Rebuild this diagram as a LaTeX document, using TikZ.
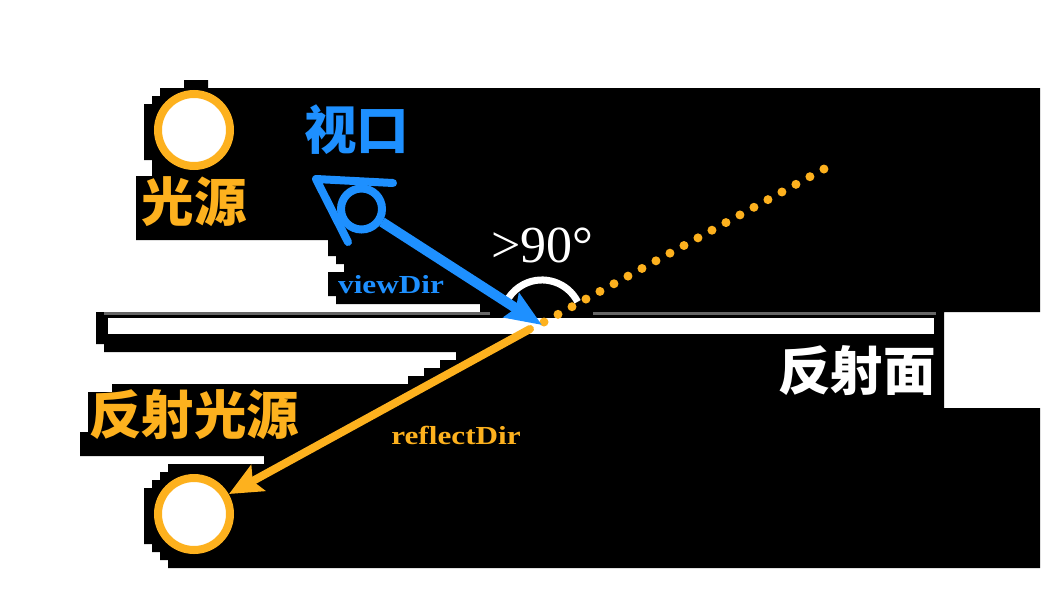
\documentclass[tikz,border=0pt]{standalone}
\usepackage{fontspec}
\usetikzlibrary{arrows.meta}
\newfontfamily\cjkf{Noto Sans CJK SC}
\newfontfamily\labelf[FakeStretch=1.2]{Liberation Serif}
\newfontfamily\numf{Liberation Serif}
\definecolor{sunorange}{HTML}{FDB11E}
\definecolor{eyeblue}{HTML}{1E90FF}
\tikzset{
  x=1pt,y=-1pt,
  lamp/.style={circle,draw=sunorange,fill=white,line width=8pt,minimum size=72pt,inner sep=0pt},
  bigtext/.style={inner sep=0pt,font=\cjkf\bfseries\fontsize{52.5}{52.5}\selectfont},
  smalltext/.style={inner sep=0pt,font=\labelf\bfseries\fontsize{26}{26}\selectfont},
  eyeline/.style={draw=eyeblue,line width=8pt,line cap=round,line join=round},
}
\begin{document}
\begin{tikzpicture}
\useasboundingbox (0,0) rectangle (1044,600);
\fill[white] (0,0) rectangle (1044,600);
% dark backdrop
\fill[black] (184,88)--(184,80)--(208,80)--(208,88)--(1040,88)--(1040,312)--(944,312)--(944,408)--(1040,408)--(1040,568)
 --(168,568)--(168,560)--(160,560)--(160,552)--(152,552)--(152,544)--(144,544)--(144,488)--(152,488)--(152,480)--(160,480)--(160,472)--(168,472)--(168,464)
 --(264,464)--(264,456)--(80,456)--(80,432)--(88,432)--(88,392)--(112,392)--(112,384)--(408,384)--(408,376)--(424,376)--(424,368)--(440,368)--(440,360)--(456,360)--(456,352)
 --(104,352)--(104,344)--(96,344)--(96,312)--(480,312)--(480,304)--(336,304)--(336,296)--(328,296)--(328,272)--(344,272)--(344,264)--(336,264)--(336,256)--(328,256)--(328,240)
 --(136,240)--(136,176)--(152,176)--(152,160)--(144,160)--(144,104)--(152,104)--(152,96)--(160,96)--(160,88)--cycle;
% reflecting surface
\fill[black!60] (104,312) rectangle (490,315);
\fill[black!60] (593,312) rectangle (936,315);
\node[fill=white,inner sep=0pt,minimum width=826pt,minimum height=16pt] (surface) at (521,326) {};
% coordinates
\coordinate (arcstart) at (577.6,301.8);
\coordinate (viewtip) at (542,325);
\coordinate (viewtail) at (382,222);
\coordinate (reflecttail) at (530,329);
\coordinate (reflecttip) at (229,494);
\coordinate (dotsstart) at (544,322);
\coordinate (dotsend) at (824,169);
\coordinate (eyeapex) at (316,179);
\coordinate (eyeup) at (393,183);
\coordinate (eyedown) at (348,242);
% angle arc
\draw[white,line width=7pt] (arcstart) arc[start angle=-27,end angle=-147,radius=40];
% dotted extension
\draw[sunorange,line width=9pt,line cap=round,dash pattern=on 0pt off 15.95pt] (dotsstart) -- (dotsend);
% lamps
\node[lamp] (light) at (194,130) {};
\node[lamp] (mirror) at (194,514) {};
% arrows
\draw[eyeblue,line width=10pt,-{Stealth[length=36pt,width=28pt,inset=5pt]}] (viewtail) -- (viewtip);
\draw[sunorange,line width=8pt,line cap=round,-{Stealth[length=33pt,width=29pt,inset=6pt]}] (reflecttail) -- (reflecttip);
% eye
\draw[eyeline] (eyeup) -- (eyeapex) -- (eyedown);
\node[circle,draw=eyeblue,line width=8pt,minimum size=41pt,inner sep=0pt] (pupil) at (361.5,209) {};
% labels
\node[bigtext,text=sunorange] (tlight) at (194,202) {光源};
\node[bigtext,text=eyeblue] (teye) at (356.5,130) {视口};
\node[bigtext,text=sunorange] (tmirror) at (194,415) {反射光源};
\node[bigtext,text=white] (tsurface) at (857,371) {反射面};
\node[smalltext,text=eyeblue,anchor=base] (tview) at (391,293) {viewDir};
\node[smalltext,text=sunorange,anchor=base] (treflect) at (456,444) {reflectDir};
\node[inner sep=0pt,text=white,anchor=base,font=\numf\fontsize{52}{52}\selectfont] (tangle) at (542.5,262) {>90°};
\end{tikzpicture}
\end{document}
